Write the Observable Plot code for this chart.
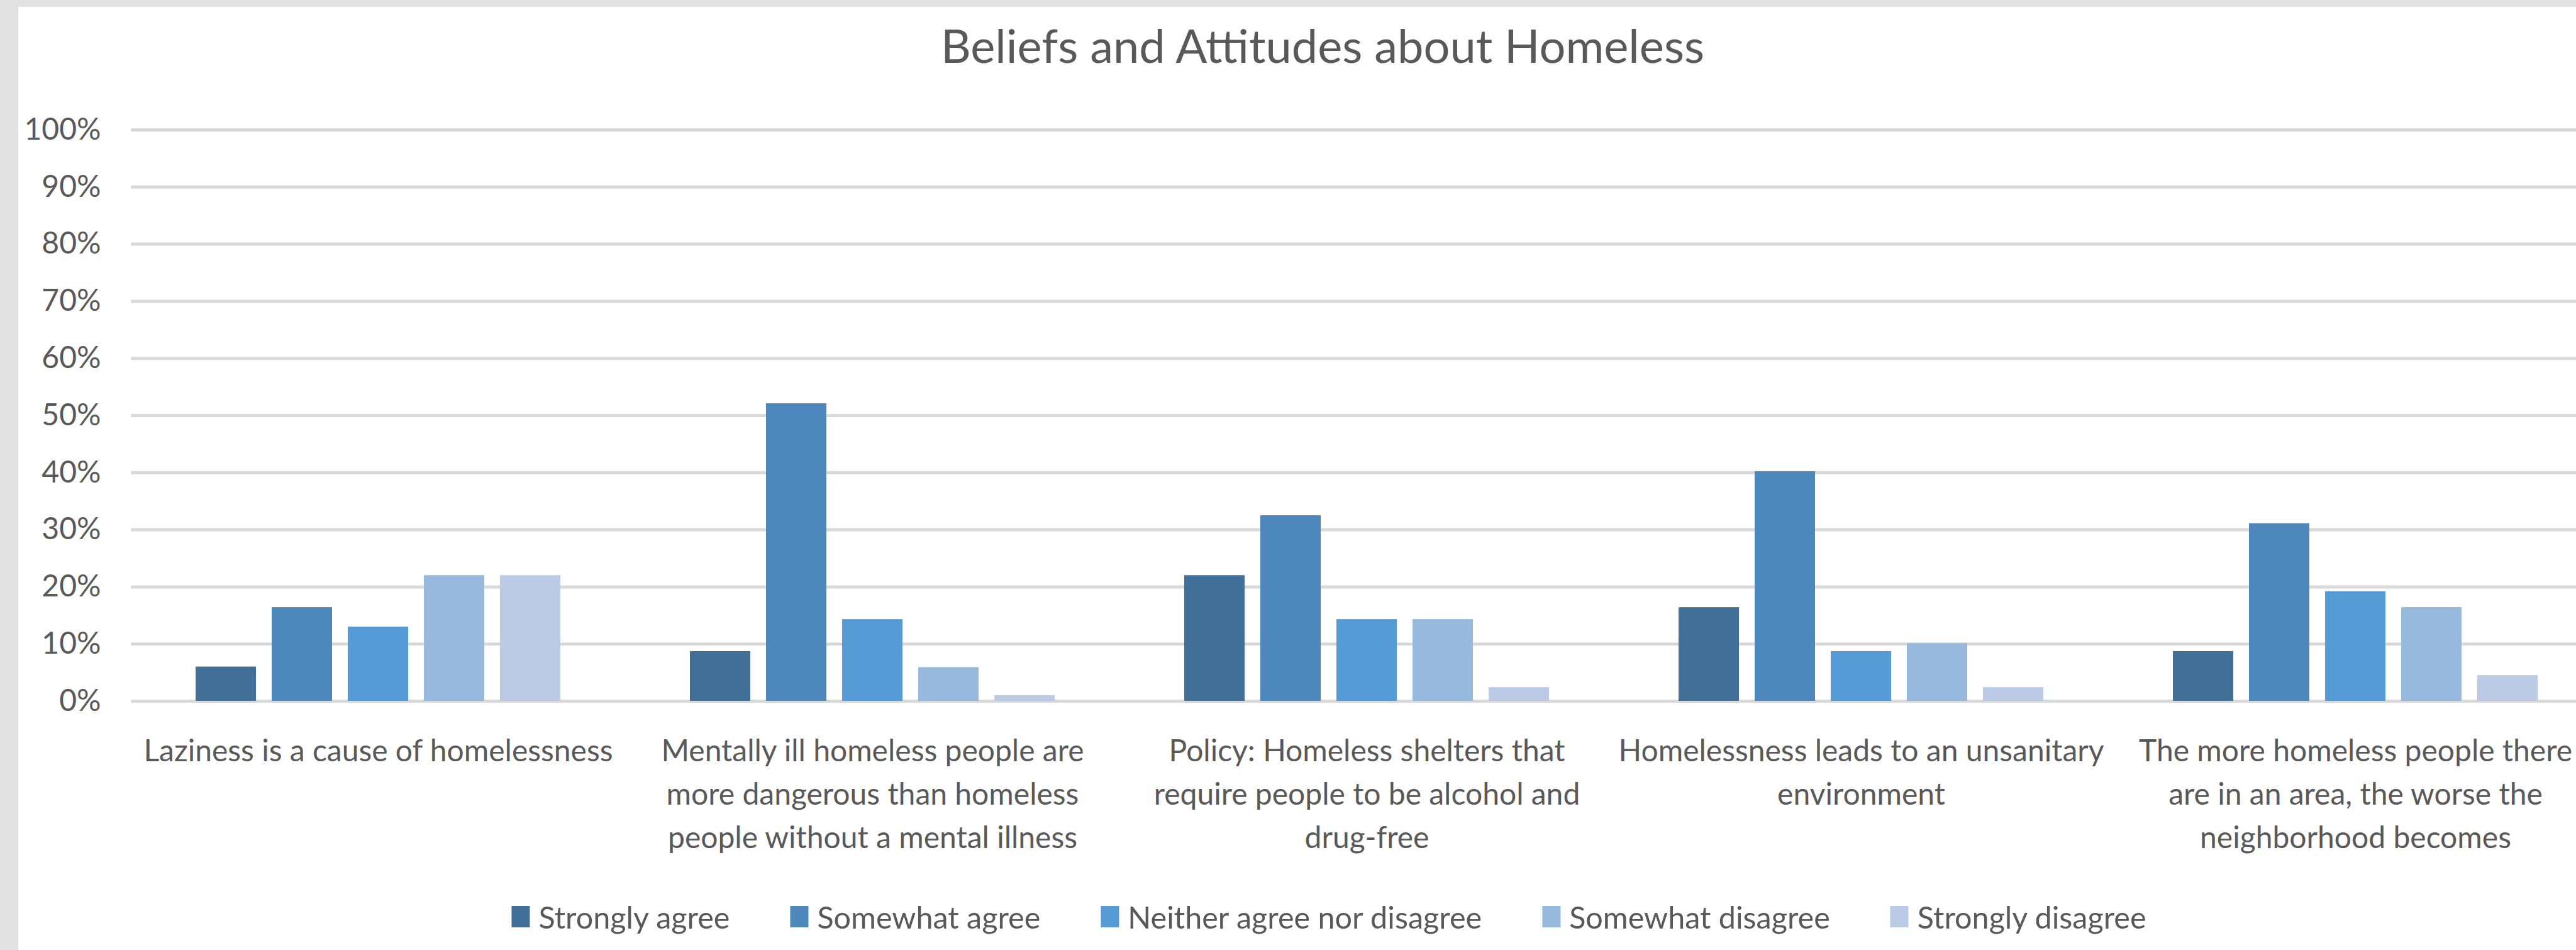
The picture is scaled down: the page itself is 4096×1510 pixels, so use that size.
<!DOCTYPE html>
<html>
<head>
<meta charset="utf-8">
<script src="https://cdn.jsdelivr.net/npm/d3@7"></script>
<script src="https://cdn.jsdelivr.net/npm/@observablehq/plot@0.6"></script>
<style>
  html, body { margin: 0; padding: 0; width: 4096px; height: 1510px; overflow: hidden; background: #e1e1e1; }
  #panel { position: absolute; left: 29px; top: 11px; width: 4200px; height: 1600px; background: #ffffff; }
  #title { position: absolute; left: 2103px; top: 35px; transform: translateX(-50%); white-space: nowrap;
           font-family: Lato, "Open Sans", sans-serif; font-size: 74px; line-height: 1; color: #595959; }
  #chart { position: absolute; left: 0; top: 150px; }
  #legend { position: absolute; left: 2113px; top: 1433px; transform: translateX(-50%); display: flex; white-space: nowrap;
            font-family: Lato, "Open Sans", sans-serif; font-size: 48.5px; line-height: 1; color: #595959; }
  .item { display: flex; align-items: center; margin-right: 96px; }
  .item:last-child { margin-right: 0; }
  .sw { width: 29px; height: 34px; margin-right: 14px; }
</style>
</head>
<body>
<div id="panel"></div>
<div id="title">Beliefs and Attitudes about Homeless</div>
<div id="chart"></div>
<div id="legend"></div>
<script>
// ---- data ----
const categories = [
  "Laziness is a cause of homelessness",
  "Mentally ill homeless people are more dangerous than homeless people without a mental illness",
  "Policy: Homeless shelters that require people to be alcohol and drug-free",
  "Homelessness leads to an unsanitary environment",
  "The more homeless people there are in an area, the worse the neighborhood becomes"
];
const categoryLabels = [
  "Laziness is a cause of homelessness",
  "Mentally ill homeless people are\nmore dangerous than homeless\npeople without a mental illness",
  "Policy: Homeless shelters that\nrequire people to be alcohol and\ndrug-free",
  "Homelessness leads to an unsanitary\nenvironment",
  "The more homeless people there\nare in an area, the worse the\nneighborhood becomes"
];
const responses = ["Strongly agree", "Somewhat agree", "Neither agree nor disagree", "Somewhat disagree", "Strongly disagree"];
const colors = ["#416f98", "#4e87bb", "#559bd6", "#98b9de", "#bbcbe6"];
const stronglyAgree    = [6.0, 8.7, 22.0, 16.4, 8.7];
const somewhatAgree    = [16.4, 52.1, 32.5, 40.2, 31.1];
const neither          = [13.0, 14.3, 14.3, 8.7, 19.2];
const somewhatDisagree = [22.0, 5.9, 14.3, 10.1, 16.4];
const stronglyDisagree = [22.0, 1.0, 2.4, 2.4, 4.5];
const yTicks = [0, 10, 20, 30, 40, 50, 60, 70, 80, 90, 100];

// ---- table ----
const series = [stronglyAgree, somewhatAgree, neither, somewhatDisagree, stronglyDisagree];
const table = [];
categories.forEach((c, i) => responses.forEach((r, j) => table.push({category: c, response: r, value: series[j][i]})));

const textColor = "#595959";
const chart = Plot.plot({
  width: 4200,
  height: 1250,
  marginLeft: 208,
  marginRight: 62,
  marginTop: 56,
  marginBottom: 286,
  style: {background: "transparent", maxWidth: "none", overflow: "visible", color: textColor, fontFamily: "Lato, 'Open Sans', sans-serif", fontSize: "48px"},
  fx: {domain: categories, padding: 0},
  x: {domain: responses, paddingInner: 0.209, paddingOuter: 0.849, axis: null},
  y: {domain: [0, 100]},
  color: {domain: responses, range: colors},
  marks: [
    Plot.ruleY(yTicks, {stroke: "#d9d9d9", strokeWidth: 5}),
    Plot.barY(table, {fx: "category", x: "response", y: "value", fill: "response"}),
    Plot.axisY({ticks: yTicks, tickFormat: d => d + "%", tickSize: 0, tickPadding: 48, fontSize: 48, label: null}),
    Plot.axisFx({anchor: "bottom", tickSize: 0, tickPadding: 47, lineHeight: 1.4375, fontSize: 48, label: null,
                 tickFormat: d => categoryLabels[categories.indexOf(d)]})
  ]
});
document.getElementById("chart").appendChild(chart);

// ---- legend ----
const legend = document.getElementById("legend");
responses.forEach((r, i) => {
  const item = document.createElement("div");
  item.className = "item";
  const sw = document.createElement("div");
  sw.className = "sw";
  sw.style.background = colors[i];
  const t = document.createElement("span");
  t.textContent = r;
  item.appendChild(sw);
  item.appendChild(t);
  legend.appendChild(item);
});
</script>
</body>
</html>
